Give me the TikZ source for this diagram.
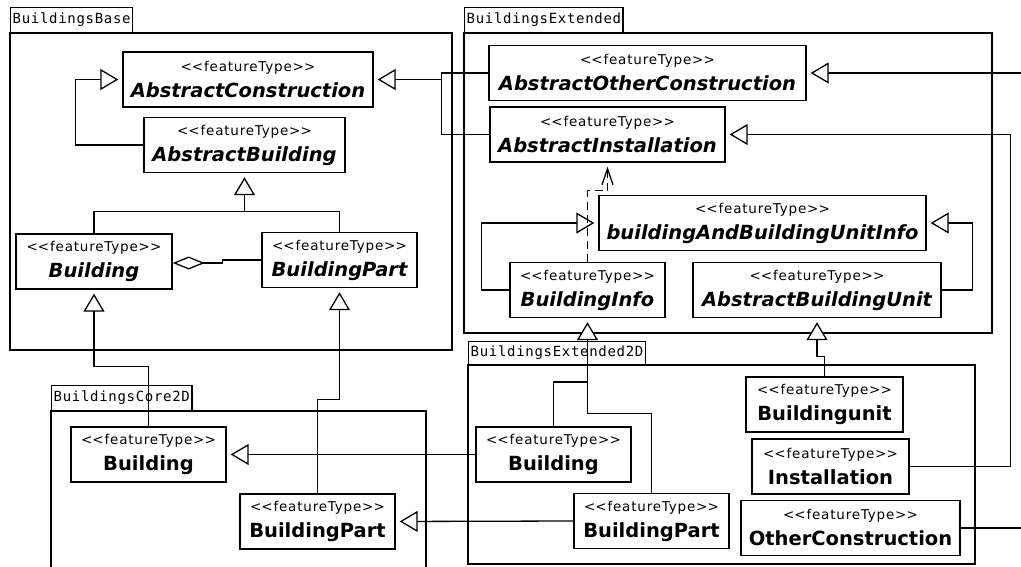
\documentclass[tikz,border=0pt]{standalone}
\usepackage{fontspec}
\setmainfont{DejaVu Sans}
\newfontfamily\stereofont[LetterSpace=6]{DejaVu Sans}
\newfontfamily\pkgfont[LetterSpace=5]{DejaVu Sans Mono}
\usetikzlibrary{arrows.meta}
\newcommand\ftype{{\stereofont\mdseries\upshape\fontsize{13.5}{15}\selectfont <\kern0pt<featureType>\kern0pt>}}
\tikzset{
  conn/.style={line width=1.3pt},
  frame/.style={line width=1.3pt},
  pkg/.style={draw,line width=1.3pt,fill=white,inner xsep=2pt,inner ysep=0pt,
    minimum height=25pt,anchor=south west,font=\pkgfont\fontsize{14}{15}\selectfont},
  cls/.style={draw,line width=1.4pt,fill=white,inner sep=0pt,minimum height=55pt,
    align=center,font=\fontsize{19.5}{26}\selectfont\bfseries},
  abs/.style={cls,font=\fontsize{19.5}{26}\selectfont\bfseries\itshape},
  gen/.style={conn,-{Triangle[length=18pt,width=21pt,fill=white]},shorten >=4pt},
  agg/.style={conn,-{Diamond[length=32pt,width=13pt,fill=white]}},
  dep/.style={conn,dash pattern=on 8pt off 5pt,-{Straight Barb[length=16pt,width=11pt]},shorten >=4pt}
}
\begin{document}
\begin{tikzpicture}[x=1pt,y=-1pt]
  \useasboundingbox (0,0) rectangle (1021,567);
  %% packages
  \node[pkg] (pBase) at (10,33) {BuildingsBase};
  \draw[frame] (pBase.south west) rectangle (452,350);
  \node[pkg] (pExt) at (464,33) {BuildingsExtended};
  \draw[frame] (pExt.south west) rectangle (992,333);
  \node[pkg] (pCore) at (51,411) {BuildingsCore2D};
  \draw[frame] (pCore.south west) rectangle (426,569);
  \node[pkg,minimum height=23pt] (pExt2) at (468,365) {BuildingsExtended2D};
  \draw[frame] (pExt2.south west) rectangle (975,564);
  %% BuildingsBase
  \node[abs,minimum width=250pt] (AC) at (248,79.5) {\ftype\\AbstractConstruction};
  \node[abs,minimum width=201pt] (AB) at (244.5,145) {\ftype\\AbstractBuilding};
  \node[abs,minimum width=156pt] (BB) at (94,261.5) {\ftype\\Building};
  \node[abs,minimum width=155pt] (BBP) at (339.5,260) {\ftype\\BuildingPart};
  %% BuildingsExtended
  \node[abs,minimum width=317pt] (AOC) at (647.5,73) {\ftype\\AbstractOtherConstruction};
  \node[abs,minimum width=235pt] (AI) at (607.5,134.5) {\ftype\\AbstractInstallation};
  \node[abs,minimum width=327pt] (BBUI) at (762.5,223) {\ftype\\buildingAndBuildingUnitInfo};
  \node[abs,minimum width=155pt] (BI) at (587.5,290) {\ftype\\BuildingInfo};
  \node[abs,minimum width=248pt] (ABU) at (817,290) {\ftype\\AbstractBuildingUnit};
  %% BuildingsCore2D
  \node[cls,minimum width=155pt] (CB) at (148.5,454.5) {\ftype\\Building};
  \node[cls,minimum width=155pt] (CBP) at (317.5,521.5) {\ftype\\BuildingPart};
  %% BuildingsExtended2D
  \node[cls,minimum width=155pt] (EB) at (553.5,454.5) {\ftype\\Building};
  \node[cls,minimum width=155pt] (EBP) at (651.5,521) {\ftype\\BuildingPart};
  \node[cls,minimum width=157pt] (BU) at (824.5,404.5) {\ftype\\Buildingunit};
  \node[cls,minimum width=157pt] (Inst) at (830.5,466.5) {\ftype\\Installation};
  \node[cls,minimum width=219pt] (OC) at (850.5,528) {\ftype\\OtherConstruction};
  \coordinate (offR) at (1021,0);
  %% connectors
  \draw[gen] (AB.west) -- ++(-68,0) |- (AC.west);
  \draw[conn] (BB.north) -- ++(0,-22) -| (BBP.north);
  \draw[gen] (AB.south |- 0,212) -- (AB.south);
  \draw[agg] (BBP.west) -- ++(-39,0) |- ([yshift=-1.5pt]BB.east);
  \draw[gen] (CB.north) -- ++(0,-60) -| (BB.south);
  \draw[gen] (CBP.north) -- ++(0,-94) -| (BBP.south);
  \draw[gen] (EB.west) -- (CB.east);
  \draw[gen] (EBP.west) -- (CBP.east);
  \draw[conn] (AOC.west) -- ++(-47,0) |- (AI.west);
  \draw[gen] (AC.east -| 442,0) -- (AC.east);
  \draw[gen] (BI.west) -- ++(-28,0) |- (BBUI.west);
  \draw[gen] (ABU.east) -- ++(31,0) |- (BBUI.east);
  \draw[dep] (BI.north) -- ++(0,-71) -| (AI.south);
  \draw[conn] (EB.north) |- (BI.south |- 0,382);
  \draw[gen] (EBP.north) -- ++(0,-79) -| (BI.south);
  \draw[gen] (BU.north) -- ++(0,-20) -| (ABU.south);
  \draw[gen] (Inst.east) -- ++(101,0) |- (AI.east);
  \draw[gen] (AOC.east -| offR) -- (AOC.east);
  \draw[conn] (OC.east) -- (OC.east -| offR);
\end{tikzpicture}
\end{document}
